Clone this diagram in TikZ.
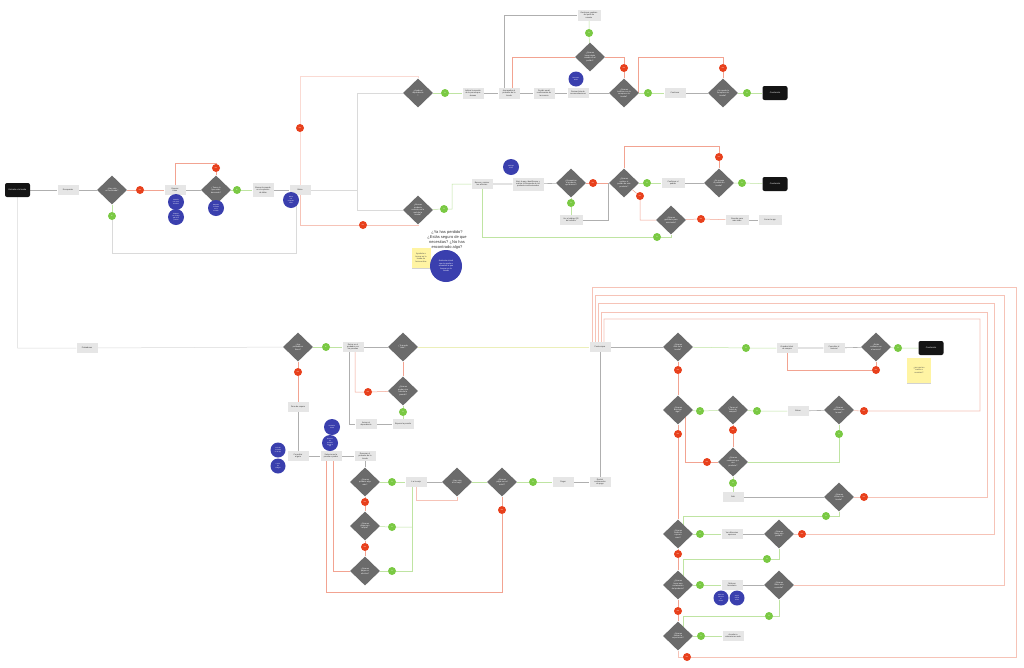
\documentclass[tikz,border=0pt]{standalone}
\usepackage{fontspec}
\setmainfont{Liberation Sans}
\usetikzlibrary{shapes.geometric,shadows}
\pgfdeclarelayer{bg}
\pgfsetlayers{bg,main}
\definecolor{boxg}{HTML}{E6E6E6}
\definecolor{txtg}{HTML}{333333}
\definecolor{diag}{HTML}{6B6B6B}
\definecolor{noc}{HTML}{E8401C}
\definecolor{yesc}{HTML}{7AC943}
\definecolor{bluec}{HTML}{3A3FAE}
\definecolor{termc}{HTML}{141414}
\definecolor{notey}{HTML}{FFF4A3}
\definecolor{lineg}{HTML}{AFAFAF}
\definecolor{linel}{HTML}{DADADA}
\definecolor{lgreen}{HTML}{BFE4A2}
\definecolor{lred}{HTML}{F2A391}
\definecolor{lred2}{HTML}{F6C3B7}
\definecolor{lred3}{HTML}{FADAD3}
\definecolor{lyel}{HTML}{ECEFBA}
\tikzset{
  box/.style={rectangle, fill=boxg, minimum width=21pt, minimum height=10pt, inner sep=0.6pt, align=center, font=\fontsize{2}{2.4}\selectfont, text=txtg},
  dia/.style={diamond, fill=diag, minimum width=30pt, minimum height=29pt, inner sep=0pt, align=center, font=\fontsize{2}{2.4}\selectfont, text=white},
  nc/.style={circle, fill=noc, minimum size=8pt, inner sep=0pt, font=\fontsize{1.6}{1.8}\selectfont, text=white},
  yc/.style={circle, fill=yesc, minimum size=8pt, inner sep=0pt, font=\fontsize{1.6}{1.8}\selectfont, text=white},
  bc/.style={circle, fill=bluec, minimum size=16pt, inner sep=0pt, align=center, font=\fontsize{1.5}{1.8}\selectfont, text=white},
  term/.style={rectangle, rounded corners=2pt, fill=termc, minimum width=25pt, minimum height=14pt, inner sep=0.5pt, font=\fontsize{2.1}{2.5}\selectfont, text=white},
  note/.style={rectangle, fill=notey, minimum width=19pt, minimum height=20pt, inner sep=0.5pt, align=center, font=\fontsize{2}{2.5}\selectfont, text=black!70, drop shadow={shadow xshift=0pt, shadow yshift=-1.2pt, opacity=0.35}},
  gl/.style={draw=lineg, line width=0.6pt},
  ll/.style={draw=linel, line width=0.5pt},
  grl/.style={draw=lgreen, line width=0.5pt},
  rl/.style={draw=lred, line width=0.5pt},
  rl2/.style={draw=lred2, line width=0.55pt},
  rl3/.style={draw=lred3, line width=0.55pt},
  yl/.style={draw=lyel, line width=0.5pt}
}
\begin{document}
\begin{tikzpicture}[x=1pt,y=-1pt]
\useasboundingbox (0,0) rectangle (1024,667);
% ---------- top left ----------
\node[term] (t1) at (17.5,190) {Entrada a la tienda};
\node[box] (b1) at (68,190) {Escaparate};
\node[dia] (d1) at (112,190) {¿Hay cola\\en la entrada?};
\node[nc] (r1) at (140,190) {No};
\node[yc] (g1) at (112,216) {Sí};
\node[box] (b2) at (175,190) {Esperar\\turno};
\node[dia] (d2) at (216,190) {¿Tienen lo\\que estás\\buscando?};
\node[nc] (r2) at (216,168) {No};
\node[bc] (c1) at (176,202) {Pantalla\\con stock\\de tallas};
\node[bc] (c2) at (176,217) {Etiqueta\\con código\\QR de la\\prenda};
\node[bc] (c3) at (216,208) {Mapa de\\la tienda\\en la\\entrada};
\node[yc] (g2) at (237,190) {Sí};
\node[box, minimum height=14pt] (b3) at (263,190) {Buscar la prenda\\en el expositor\\de tallas};
\node[box] (b4) at (300,190) {Bolsa};
\node[bc] (c4) at (291,200) {Bolsa\\con\\etiquetas\\RFID};
\node[nc] (r3) at (300,128) {No};
\node[nc] (r4) at (363,225) {No};
% ---------- top row ----------
\node[dia] (d3) at (418,93) {¿Ayuda al\\dependiente\\?};
\node[yc] (g3) at (445,93) {Sí};
\node[box, minimum height=11pt] (b5) at (473,93) {Indicar la sección\\de la prenda que\\deseas};
\node[box, minimum height=11pt] (b6) at (509,93) {Acompañar al\\probador de la\\tienda};
\node[box, minimum height=11pt] (b7) at (544,93) {Recibir email\\confirmación de\\la reserva};
\node[box] (b8) at (578,93) {Revisar lista de\\recomendaciones};
\node[bc, minimum size=15pt] (c5) at (576,79) {Recomen-\\dador};
\node[dia] (d4) at (590,57) {¿Quieres\\hacer algún\\cambio en el\\pedido?};
\node[yc] (g4) at (589,33) {Sí};
\node[box, minimum width=23pt, minimum height=11pt] (b9) at (589,15) {Gestionar cambios\\del perfil de\\usuario};
\node[dia] (d5) at (624,93) {¿Quieres\\terminar con la\\compra en la\\tienda?};
\node[nc] (r5) at (624,68) {No};
\node[yc] (g5) at (648,93) {Sí};
\node[box] (b10) at (675,93) {Continuar};
\node[dia] (d6) at (723,93) {¿Se queda la\\compra en la\\tienda?};
\node[nc] (r6) at (723,68) {No};
\node[yc] (g6) at (747,93) {Sí};
\node[term] (t2) at (775,93) {Conclusión};
% ---------- second row ----------
\node[dia] (d7) at (418,210) {¿Buscas\\producto\\concreto en la\\web de la\\tienda?};
\node[yc] (g7) at (444,209) {Sí};
\node[box] (b11) at (482,184) {Buscar y revisar\\los artículos};
\node[bc] (c6) at (511,167) {Catálogo\\online};
\node[box, minimum width=31pt, minimum height=13pt] (b12) at (528,184) {Abrir la app, identificarse y\\realizar la búsqueda de los\\productos seleccionados};
\node[dia] (d8) at (571,183) {¿Encuentras\\el producto\\que buscas?};
\node[nc] (r8) at (593,183) {No};
\node[yc] (g8) at (571,203) {Sí};
\node[box, minimum width=23pt] (b13) at (571,220) {Ver el código QR\\del artículo};
\node[dia] (d9) at (624,183) {¿Quieres\\realizar el\\pedido de este\\producto?};
\node[yc] (g9) at (647,183) {Sí};
\node[box, minimum width=23pt] (b14) at (673,183) {Confirmar el\\pedido};
\node[dia] (d10) at (719,183) {¿Se recoge\\el pedido en\\tienda?};
\node[nc] (r10) at (719,157) {No};
\node[yc] (g10) at (742,183) {Sí};
\node[term] (t3) at (775,184) {Conclusión};
\node[nc] (r9) at (640,196) {No};
\node[dia] (d11) at (671,220) {¿Quieres\\guardarlo para\\más tarde?};
\node[nc] (r11) at (701,219) {No};
\node[box, minimum width=23pt] (b15) at (737,220) {Guardar para\\más tarde};
\node[box, minimum width=23pt] (b16) at (770,220) {Cerrar la app};
\node[yc] (g12) at (657,237) {Sí};
% notes
\node[font=\fontsize{4}{4.9}\selectfont, align=center, text=black!80] (q1) at (447,240) {¿Ya has perdido?\\¿Estás seguro de que\\necesitas? ¿No has\\encontrado algo?};
\node[note] (n1) at (421,258) {Ayudarte a\\buscar en la\\tienda de\\forma online};
\node[bc, minimum size=32pt, font=\fontsize{2}{2.4}\selectfont] (c7) at (446,266) {Asistente virtual\\que te ayuda a\\encontrar lo que\\buscas en la\\tienda};
% ---------- bottom left ----------
\node[box] (b17) at (87,348) {Probadores};
\node[dia] (d12) at (298,347) {¿Hay\\probadores\\libres?};
\node[yc] (g13) at (326,347) {Sí};
\node[box] (b18) at (353,347) {Entrar en el\\probador con\\las prendas};
\node[dia] (d13) at (403,347) {¿Te queda\\bien?};
\node[nc] (r14) at (298,372) {No};
\node[box] (b21) at (298,407) {Zona de espera};
\node[dia] (d14) at (403,391) {¿Quieres\\probar otra\\talla de la\\prenda?};
\node[nc] (r15) at (368,392) {No};
\node[yc] (g16) at (403,412) {Sí};
\node[box] (b19) at (366,424) {Avisar al\\dependiente};
\node[box] (b20) at (403,424) {Esperar la prenda};
\node[box] (b22) at (298,456) {Consultar\\al guía};
\node[box] (b23) at (331,456) {Seleccionar la\\prenda a probar};
\node[box] (b24) at (365,456) {Reservar el\\probador de la\\tienda};
\node[bc, minimum size=15pt] (c8) at (278,450) {Guía de\\la tienda\\en la app};
\node[bc, minimum size=15pt] (c9) at (278,466) {Lector\\de\\códigos};
\node[bc] (c10) at (332,427) {Probador\\virtual};
\node[bc] (c11) at (330,443) {Reserva\\de\\probador\\desde la\\app};
\node[dia] (d15) at (365,482) {¿Quieres\\probarte algo\\más?};
\node[yc] (g17) at (392,482) {Sí};
\node[box] (b25) at (416,482) {Ir a la caja};
\node[dia] (d18) at (457,482) {¿Hay cola\\en la caja?};
\node[dia] (d19) at (502,482) {¿Quieres\\pagar con el\\móvil?};
\node[yc] (g23) at (533,482) {Sí};
\node[box] (b26) at (563,482) {Pagar};
\node[box] (b27) at (600,482) {Recibir\\confirmación\\de pago};
\node[nc] (r22) at (502,510) {No};
\node[nc] (r18) at (365,502) {No};
\node[dia] (d16) at (365,526) {¿Quieres\\pagar con\\tarjeta?};
\node[yc] (g19) at (392,527) {Sí};
\node[nc] (r20) at (365,547) {No};
\node[dia] (d17) at (365,571) {¿Quieres\\pagar en\\efectivo?};
\node[yc] (g21) at (392,571) {Sí};
% ---------- bottom right ----------
\node[box] (bp) at (600,347) {Postcompra};
\node[dia] (d20) at (678,347) {¿Quieres\\salir de la\\tienda?};
\node[yc] (g24) at (746,348) {Sí};
\node[box] (b28) at (787,348) {Guardar ticket\\de compra};
\node[box] (b29) at (834,348) {Consultar el\\historial};
\node[dia] (d21) at (876,347) {¿Estás\\contento con\\el servicio?};
\node[yc] (g25) at (898,348) {Sí};
\node[term] (t4) at (931,348) {Conclusión};
\node[note, minimum width=24pt, minimum height=25pt] (n2) at (919,370) {¿por qué no\\vuelve a\\nosotros?};
\node[nc] (r26) at (876,370) {No};
\node[nc] (r27) at (678,370) {No};
\node[dia] (d22) at (678,410) {¿Quieres\\devolver\\algo?};
\node[yc] (g28) at (700,411) {Sí};
\node[dia] (d23) at (733,410) {¿Tienes el\\ticket de\\compra?};
\node[yc] (g29) at (757,411) {Sí};
\node[box] (b30) at (798,411) {Entrar};
\node[dia] (d24) at (839,410) {¿Quieres\\devolver por\\la web?};
\node[nc] (r30) at (864,411) {No};
\node[yc] (g31) at (839,434) {Sí};
\node[nc] (r32) at (733,430) {No};
\node[nc] (r33) at (707,462) {No};
\node[dia] (d25) at (733,462) {¿Quieres\\cambiarlo por\\otro\\producto?};
\node[yc] (g34) at (733,483) {Sí};
\node[box] (b31) at (733,497) {Salir};
\node[dia] (d26) at (839,497) {¿Quieres\\volver a la\\tienda?};
\node[nc] (r35) at (864,497) {No};
\node[yc] (g36) at (826,516) {Sí};
\node[nc] (r37) at (678,434) {No};
\node[dia] (d27) at (678,534) {¿Quieres\\recibir la\\ropa en\\casa?};
\node[yc] (g38) at (700,534) {Sí};
\node[box] (b32) at (732,534) {Ver diferentes\\opciones};
\node[dia] (d28) at (779,534) {¿Quieres\\hacer otro\\pedido?};
\node[nc] (r39) at (802,534) {No};
\node[nc] (r40) at (678,554) {No};
\node[yc] (g41) at (767,559) {Sí};
\node[dia] (d29) at (678,585) {¿Quieres\\hacer una\\reclamación\\del producto?};
\node[yc] (g42) at (700,585) {Sí};
\node[box] (b33) at (732,585) {Rellenar\\formulario};
\node[bc, minimum size=15pt] (c12) at (721,598) {Chat con\\atención\\al\\cliente};
\node[bc, minimum size=15pt] (c13) at (737,598) {Segui-\\miento\\online};
\node[dia] (d30) at (779,585) {¿Quieres\\hacer otra\\consulta?};
\node[nc] (r43) at (678,611) {No};
\node[yc] (g44) at (769,616) {Sí};
\node[dia] (d31) at (678,636) {¿Quieres\\valorar la\\experiencia?};
\node[yc] (g45) at (701,636) {Sí};
\node[box] (b34) at (733,636) {Acceder a\\valoraciones web};
\node[nc] (r46) at (687,657) {No};
% ================= connectors =================
\begin{pgfonlayer}{bg}
\fill[white] (0,0) rectangle (1024,667);
% top left
\draw[gl] (t1) -- (b1) -- (d1);
\draw[rl] (d1) -- (r1) -- (b2);
\draw[gl] (b2) -- (d2);
\draw[rl] (d2) -- (r2) -- (216,163) -| (b2);
\draw[grl] (d2) -- (g2) -- (b3);
\draw[gl] (b3) -- (b4);
\draw[grl] (d1) -- (g1);
\draw[ll] (g1) -- (112,253) -- (296,253) -- (296,190);
\draw[ll] (t1) |- (b17) -- (d12);
\draw[rl3] (b4) -- (r3) -- (300,76) -| (d3);
\draw[ll] (b4) -- (357,190) |- (d3);
\draw[ll] (357,190) |- (d7);
\draw[rl2] (b4) -- (300,225) -- (r4) -| (d7);
% top row
\draw[grl] (d3) -- (g3) -- (b5);
\draw[gl] (b5) -- (b6) -- (b7) -- (b8) -- (d5);
\draw[gl] (504,93) |- (b9);
\draw[rl] (512,93) |- (d4);
\draw[grl] (d4) -- (g4) -- (b9);
\draw[rl] (d5) -- (r5) -- (624,57) -- (d4);
\draw[grl] (d5) -- (g5) -- (b10);
\draw[gl] (b10) -- (d6);
\draw[grl] (d6) -- (g6) -- (t2);
\draw[rl] (d6) -- (r6) -- (723,57) -- (638,57) -- (638,93);
% second row
\draw[grl] (d7) -- (g7) -- (452,209) |- (b11);
\draw[gl] (b11) -- (b12) -- (d8);
\draw[rl] (d8) -- (r8) -- (d9);
\draw[grl] (d8) -- (g8) -- (b13);
\draw[gl] (b13) -- (608,220) -- (608,183) -- (d9);
\draw[grl] (d9) -- (g9) -- (b14);
\draw[gl] (b14) -- (d10);
\draw[grl] (d10) -- (g10) -- (t3);
\draw[rl] (d10) -- (r10) -- (719,146) -| (d9);
\draw[rl] (d9) -- (r9) |- (d11);
\draw[rl] (d11) -- (r11) -- (b15);
\draw[gl] (b15) -- (b16);
\draw[grl] (b11) |- (g12) -- (671,237) -- (d11);
% bottom left
\draw[grl] (d12) -- (g13) -- (b18);
\draw[gl] (b18) -- (d13);
\draw[yl] (d13) -- (bp);
\draw[rl] (d12) -- (r14) -- (b21);
\draw[gl] (b21) -- (b22);
\draw[gl] (b22) -- (b23) -- (b24);
\draw[gl] (349,347) |- (b19);
\draw[rl] (355,347) |- (r15) -- (d14);
\draw[rl] (d13) -- (d14);
\draw[grl] (d14) -- (g16) -- (b20);
\draw[gl] (b19) -- (b20);
\draw[gl] (b24) -- (d15);
\draw[grl] (d15) -- (g17) -- (b25);
\draw[rl] (d15) -- (r18) -- (d16);
\draw[grl] (d16) -- (g19) -- (412,527);
\draw[rl] (d16) -- (r20) -- (d17);
\draw[grl] (d17) -- (g21) -- (412,571) -- (412,482);
\draw[rl] (d19) -- (r22) -- (502,592) -- (326,592) -- (326,456);
\draw[rl] (333,456) |- (d17);
\draw[gl] (b25) -- (d18);
\draw[rl2] (416,482) -- (416,500) -- (457,500) -- (d18);
\draw[grl] (d18) -- (d19);
\draw[grl] (d19) -- (g23) -- (b26);
\draw[gl] (b26) -- (b27);
\draw[gl] (b27) -- (bp);
% bottom right
\draw[gl] (bp) -- (d20);
\draw[grl] (d20) -- (g24) -- (b28);
\draw[gl] (b28) -- (b29) -- (d21);
\draw[grl] (d21) -- (g25) -- (t4);
\draw[rl] (b28) |- (r26) -- (d21);
\draw[rl] (d20) -- (r27) -- (d22);
\draw[grl] (d22) -- (g28) -- (d23);
\draw[grl] (d23) -- (g29) -- (b30);
\draw[gl] (b30) -- (d24);
\draw[rl2] (d24) -- (r30) -- (980,411) -- (980,319) -- (604,319) -- (604,347);
\draw[grl] (d24) -- (g31) |- (d25);
\draw[rl] (d23) -- (r32) -- (d25);
\draw[rl] (685,410) |- (r33) -- (d25);
\draw[grl] (d25) -- (g34) -- (b31);
\draw[gl] (b31) -- (d26);
\draw[rl2] (d26) -- (r35) -- (987,497) -- (987,312) -- (601,312) -- (601,347);
\draw[grl] (d26) |- (g36) -- (683,516) -- (683,534);
\draw[rl] (d22) -- (r37) -- (d27);
\draw[grl] (d27) -- (g38) -- (b32);
\draw[gl] (b32) -- (d28);
\draw[rl2] (d28) -- (r39) -- (994,534) -- (994,303) -- (598,303) -- (598,347);
\draw[rl] (d27) -- (r40) -- (d29);
\draw[grl] (d28) |- (g41) -- (683,559) -- (683,585);
\draw[grl] (d29) -- (g42) -- (b33);
\draw[gl] (b33) -- (d30);
\draw[rl2] (d30) -- (1004,585) -- (1004,295) -- (595,295) -- (595,347);
\draw[rl] (d29) -- (r43) -- (d31);
\draw[grl] (d30) |- (g44) -- (683,616) -- (683,636);
\draw[grl] (d31) -- (g45) -- (b34);
\draw[rl2] (d31) |- (r46) -- (1016,657) -- (1016,287) -- (592,287) -- (592,347);
\end{pgfonlayer}
\end{tikzpicture}
\end{document}
